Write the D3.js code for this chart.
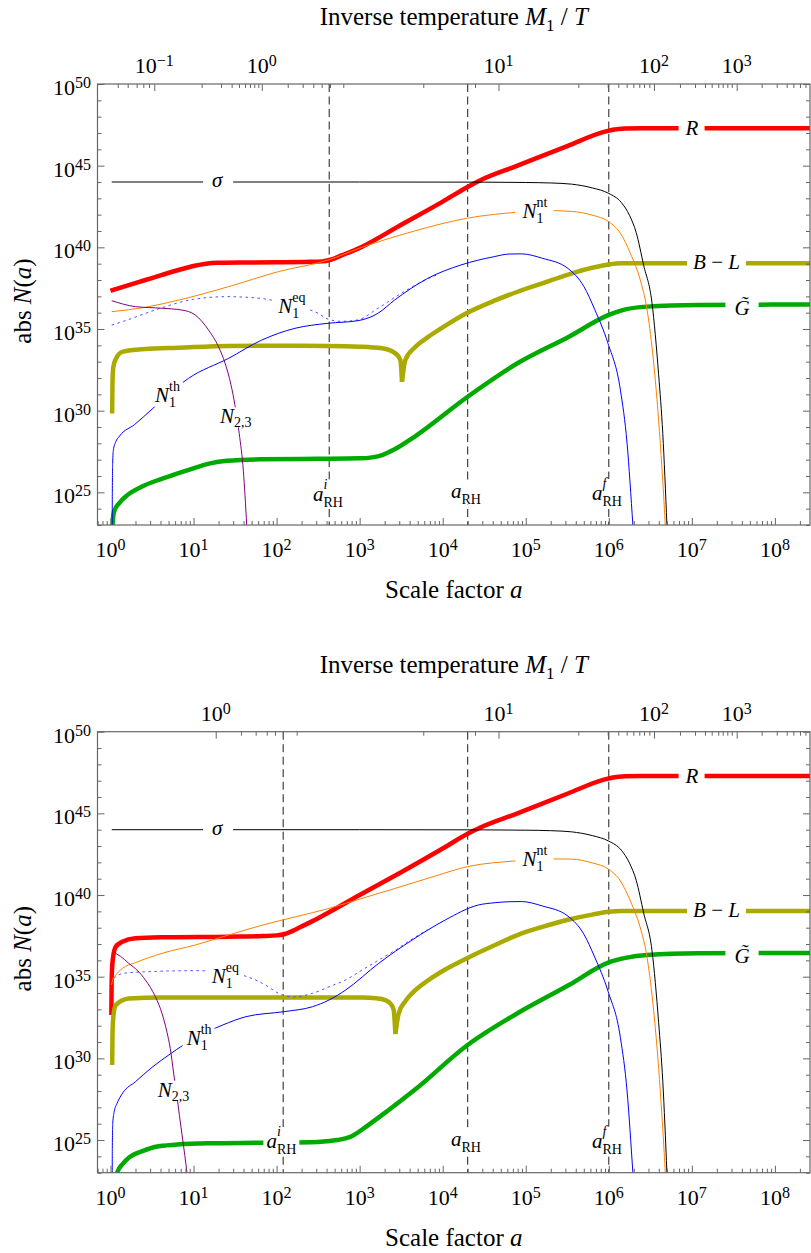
<!DOCTYPE html>
<html>
<head>
<meta charset="utf-8">
<script src="https://cdn.jsdelivr.net/npm/d3@7/dist/d3.min.js"></script>
<style>
  html,body{margin:0;padding:0;background:#fff;}
  svg{display:block;}
  text{font-family:"Liberation Serif","Times New Roman",Times,serif;fill:#000;}
</style>
</head>
<body>
<svg id="chart" width="811" height="1253"></svg>
<script>
// ================= DATA =================
// every point: [log10(scale factor a), log10(abs N(a))]

// ---- upper panel ----
const P1_R = [[0.0,37.34],[0.2,37.66],[0.42,38.0],[0.62,38.31],[0.82,38.61],[1.0,38.86],[1.15,39.0],[1.3,39.05],[1.6,39.07],[2.0,39.08],[2.4,39.11],[2.55,39.14],[2.65,39.24],[2.79,39.52],[3.03,40.04],[3.5,41.38],[4.0,42.8],[4.3,43.7],[4.46,44.12],[4.9,45.0],[5.5,46.2],[5.95,47.08],[6.05,47.2],[6.2,47.27],[6.4,47.29],[8.45,47.29]];
const SIGMA = [[0.015,44.0],[3.0,44.0],[4.5,43.99],[5.0,43.97],[5.3,43.94],[5.55,43.87],[5.8,43.64],[6.0,43.3],[6.15,42.75],[6.25,41.95],[6.33,40.9],[6.42,38.9],[6.52,36.6],[6.6,32.2],[6.65,28.6],[6.7,23.0],[6.72,20.5]];
const P1_N1NT = [[0.015,36.06],[0.42,36.33],[0.82,36.77],[1.42,37.59],[2.02,38.51],[2.62,39.22],[3.0,39.95],[3.66,41.0],[4.29,41.78],[4.9,42.15],[5.25,42.25],[5.55,42.2],[5.8,41.97],[6.0,41.57],[6.14,40.86],[6.26,39.63],[6.39,37.8],[6.45,36.5],[6.52,33.9],[6.6,29.4],[6.68,23.0],[6.7,21.0]];
const P1_N1TH = [[0.02,21.5],[0.022,25.0],[0.026,26.8],[0.035,27.6],[0.06,28.05],[0.11,28.45],[0.29,29.15],[0.51,30.14],[0.72,31.1],[0.94,31.98],[1.42,33.2],[1.82,34.32],[2.22,35.04],[2.62,35.35],[2.98,35.51],[3.22,35.96],[3.42,36.77],[3.82,38.1],[4.22,38.92],[4.62,39.43],[4.8,39.59],[4.95,39.6],[5.2,39.33],[5.51,38.7],[5.7,37.6],[5.83,36.2],[5.99,34.12],[6.14,31.26],[6.22,28.0],[6.29,23.0],[6.31,21.5]];
const P1_N1EQ = [[0.015,35.24],[0.2,35.55],[0.6,36.27],[1.0,36.82],[1.4,36.98],[1.8,36.88],[2.15,36.5],[2.5,35.96],[2.62,35.6],[2.78,35.47],[2.98,35.56],[3.22,36.27],[3.5,37.18],[3.82,38.08],[3.95,38.35]];
const P1_N23 = [[0.015,36.73],[0.3,36.37],[0.62,36.27],[0.86,36.16],[1.02,35.86],[1.18,34.94],[1.3,33.92],[1.38,32.9],[1.45,31.6],[1.5,30.3],[1.55,28.6],[1.6,26.3],[1.64,23.0],[1.66,21.0]];
const P1_BL_LEFT = [[0.02,29.83],[0.024,31.8],[0.035,32.7],[0.063,33.15],[0.143,33.6],[0.42,33.77],[0.82,33.85],[1.42,33.96],[2.0,33.97],[2.62,33.96],[3.0,33.92],[3.27,33.82],[3.43,33.51],[3.49,33.1],[3.51,31.77]];
const P1_BL_RIGHT = [[3.51,31.77],[3.55,33.1],[3.67,33.9],[3.83,34.53],[4.0,35.1],[4.28,35.95],[4.63,36.75],[4.9,37.28],[5.2,37.8],[5.52,38.35],[5.8,38.75],[6.0,38.95],[6.15,39.02],[8.45,39.02]];
const P1_G = [[0.02,22.0],[0.025,23.0],[0.042,23.81],[0.102,24.32],[0.203,24.83],[0.4,25.4],[0.6,25.8],[0.8,26.15],[1.0,26.47],[1.2,26.77],[1.4,26.93],[1.8,27.02],[2.5,27.05],[3.0,27.08],[3.15,27.14],[3.28,27.3],[3.41,27.6],[3.66,28.4],[4.3,30.85],[4.9,32.9],[5.52,34.53],[6.0,35.86],[6.2,36.2],[6.46,36.37],[7.08,36.47],[8.45,36.5]];

// ---- lower panel ----
const P2_R = [[0.01,32.65],[0.013,34.3],[0.018,35.4],[0.03,36.15],[0.063,36.83],[0.143,37.14],[0.3,37.35],[0.62,37.41],[1.42,37.45],[1.83,37.49],[2.0,37.53],[2.09,37.6],[2.2,37.82],[2.3,38.07],[2.5,38.58],[3.0,40.0],[3.5,41.4],[4.0,42.85],[4.3,43.75],[4.46,44.15],[4.9,45.0],[5.5,46.2],[5.95,47.08],[6.05,47.2],[6.2,47.27],[6.4,47.29],[8.45,47.29]];
const P2_N1NT = [[0.012,34.49],[0.03,34.85],[0.063,35.1],[0.143,35.51],[0.3,35.86],[0.62,36.43],[1.02,36.94],[1.42,37.55],[1.83,38.16],[2.23,38.67],[2.63,39.18],[3.03,39.8],[3.43,40.41],[3.9,41.15],[4.3,41.74],[4.9,42.1],[5.25,42.22],[5.55,42.2],[5.8,41.97],[6.0,41.57],[6.14,40.86],[6.26,39.63],[6.39,37.8],[6.45,36.5],[6.52,33.9],[6.6,29.4],[6.68,23.0],[6.7,21.0]];
const P2_N1TH = [[0.02,21.5],[0.022,24.5],[0.027,26.0],[0.045,26.75],[0.079,27.24],[0.15,27.9],[0.3,28.57],[0.5,29.45],[0.73,30.31],[1.0,31.2],[1.35,32.04],[1.63,32.55],[2.09,32.86],[2.43,33.16],[2.63,33.57],[2.83,34.18],[3.23,35.82],[3.63,37.24],[4.03,38.47],[4.43,39.39],[4.63,39.53],[4.8,39.59],[4.95,39.6],[5.2,39.33],[5.51,38.7],[5.7,37.6],[5.83,36.2],[5.99,34.12],[6.14,31.26],[6.22,28.0],[6.29,23.0],[6.31,21.5]];
const P2_N1EQ = [[0.04,34.9],[0.143,35.2],[0.42,35.3],[1.02,35.37],[1.3,35.3],[1.67,34.96],[1.83,34.59],[2.07,33.88],[2.2,33.76],[2.43,33.98],[2.63,34.38],[2.83,34.8],[3.03,35.41],[3.23,36.02],[3.43,36.63],[3.63,37.3],[3.83,37.9]];
const P2_N23 = [[0.06,36.43],[0.12,36.25],[0.22,35.82],[0.33,35.35],[0.42,34.8],[0.54,33.78],[0.62,32.76],[0.68,31.6],[0.72,30.6],[0.76,29.1],[0.8,27.7],[0.83,26.5],[0.87,25.0],[0.92,23.0],[0.94,22.0]];
const P2_BL_LEFT = [[0.02,29.6],[0.024,31.5],[0.035,32.6],[0.063,33.26],[0.22,33.67],[0.62,33.73],[1.8,33.73],[2.5,33.73],[3.03,33.72],[3.2,33.68],[3.31,33.57],[3.38,33.3],[3.41,32.96],[3.43,31.49]];
const P2_BL_RIGHT = [[3.43,31.49],[3.47,32.76],[3.55,33.5],[3.63,33.98],[3.83,34.8],[4.0,35.35],[4.3,36.15],[4.63,36.94],[4.9,37.55],[5.2,38.05],[5.52,38.5],[5.8,38.8],[6.0,38.97],[6.15,39.02],[8.45,39.02]];
const P2_G = [[0.06,22.0],[0.08,23.0],[0.15,23.55],[0.235,23.97],[0.4,24.35],[0.546,24.59],[0.8,24.72],[1.17,24.8],[1.79,24.83],[2.41,24.86],[2.6,24.92],[2.73,25.0],[2.91,25.25],[3.1,25.9],[3.35,26.84],[3.66,28.06],[4.3,30.82],[4.9,32.76],[5.52,34.49],[6.0,35.88],[6.2,36.15],[6.46,36.33],[7.08,36.43],[8.45,36.45]];

// reheating markers (scale factor a): a_RH^i, a_RH, a_RH^f
const P1_MARKERS = [430, 2e4, 1e6];
const P2_MARKERS = [120, 2e4, 1e6];

// top axis (M1/T) ticks: [M1/T, log10 a where it occurs]
const TOP1_TICKS = [[0.05,0.087],[0.06,0.207],[0.07,0.315],[0.08,0.395],[0.09,0.464],[0.1,0.527],[0.2,1.098],[0.3,1.331],[0.4,1.459],[0.5,1.547],[0.6,1.620],[0.7,1.680],[0.8,1.731],[0.9,1.780],[1,1.821],[2,2.134],[3,2.314],[4,2.442],[5,2.543],[6,2.643],[7,2.803],[8,3.766],[9,4.389],[10,4.672]];
const TOP2_TICKS = [[1,1.267],[2,1.571],[3,1.748],[4,1.881],[5,1.981],[6,2.077],[7,2.242],[8,3.766],[9,4.389],[10,4.672]];
const TOP_TAIL = [[20,5.633],[30,5.987],[40,6.114],[50,6.215],[60,6.295],[70,6.367],[80,6.424],[90,6.488],[100,6.544],[200,6.857],[300,7.038],[400,7.158],[500,7.239],[600,7.318],[700,7.371],[800,7.427],[900,7.480],[1000,7.540],[2000,7.841],[3000,8.022],[4000,8.142],[5000,8.222],[6000,8.302],[7000,8.368]];

// bottom axis labelled decades, left axis labelled decades
const X_LABEL_EXPS = [0,1,2,3,4,5,6,7,8];
const Y_LABEL_EXPS = [25,30,35,40,45,50];
const Y_RANGE_EXP = [23, 50];

// ================= DRAWING =================
const svg = d3.select("#chart");
const X_LEFT = 97.5, X_RIGHT = 810;
const P = v => Math.pow(10, v);
const x = d3.scaleLog().domain([P(-0.1565), P(8.4226)]).range([X_LEFT, X_RIGHT]);
const FRAME = "#666";
const defs = svg.append("defs");

function bgLabel(g, padX, build) {
  const t = g.append("text");
  build(t);
  const bb = t.node().getBBox();
  g.insert("rect", () => t.node())
    .attr("x", bb.x - padX).attr("y", bb.y + 3)
    .attr("width", bb.width + 2 * padX).attr("height", Math.max(0, bb.height - 6))
    .attr("fill", "#fff");
  return t;
}
function subSup(t, xL, yB, main, sub, sup, o) {
  o = o || {};
  const subDy = o.subDy != null ? o.subDy : 5;
  const supDy = o.supDy != null ? o.supDy : -11;
  t.attr("x", xL).attr("y", yB).attr("font-size", 21);
  t.append("tspan").attr("font-style", "italic").text(main);
  const s = t.append("tspan").attr("font-size", 14).attr("dy", subDy).text(sub);
  if (sup) {
    const w = s.node().getComputedTextLength();
    t.append("tspan").attr("font-size", 14).attr("dx", -w).attr("dy", supDy - subDy)
      .attr("font-style", o.supItalic ? "italic" : null).text(sup);
  }
}
function powText(t, e, supSize, supDy) {
  t.append("tspan").text("10");
  t.append("tspan").attr("font-size", supSize).attr("dy", -supDy)
    .text(e < 0 ? "\u2212" + (-e) : String(e));
}

function drawPanel(cfg) {
  const top = cfg.top, bottom = cfg.bottom, off = cfg.off;
  const y = d3.scaleLog().domain([P(Y_RANGE_EXP[0]), P(Y_RANGE_EXP[1])]).range([bottom, top]);
  const g = svg.append("g");
  const clipId = "clip" + cfg.id;
  defs.append("clipPath").attr("id", clipId).append("rect")
    .attr("x", X_LEFT).attr("y", top).attr("width", X_RIGHT - X_LEFT).attr("height", bottom - top);
  const plot = g.append("g").attr("clip-path", "url(#" + clipId + ")");

  // dashed reheating markers
  plot.selectAll("line.mk").data(cfg.markers).join("line").attr("class", "mk")
    .attr("x1", d => x(d)).attr("x2", d => x(d)).attr("y1", top).attr("y2", bottom)
    .attr("stroke", "#000").attr("stroke-width", 0.9).attr("stroke-dasharray", "8,4.5");

  const line = d3.line().x(d => x(P(d[0]))).y(d => y(P(d[1]))).curve(d3.curveMonotoneX);
  cfg.series.forEach(s => {
    plot.append("path").attr("d", line(s.data)).attr("fill", "none")
      .attr("stroke", s.color).attr("stroke-width", s.width)
      .attr("stroke-dasharray", s.dash || null).attr("stroke-linejoin", "round");
  });

  // axes (ticks inward)
  const styleAxis = sel => {
    sel.select(".domain").remove();
    sel.selectAll(".tick line").attr("stroke", FRAME).attr("stroke-width", 1);
    sel.selectAll(".tick text").remove();
  };
  const yExps = d3.range(Y_RANGE_EXP[0], Y_RANGE_EXP[1] + 1);
  const yMinor = yExps.filter(e => e % 5 !== 0).map(P);
  const yMajor = yExps.filter(e => e % 5 === 0).map(P);
  [[d3.axisLeft, X_LEFT], [d3.axisRight, X_RIGHT]].forEach(([ax, px]) => {
    g.append("g").attr("transform", "translate(" + px + ",0)").call(ax(y).tickValues(yMinor).tickSize(-4)).call(styleAxis);
    g.append("g").attr("transform", "translate(" + px + ",0)").call(ax(y).tickValues(yMajor).tickSize(-7)).call(styleAxis);
  });
  const xMinor = [], xMajor = [];
  for (let e = -1; e <= 8; e++) {
    for (let k = 1; k <= 9; k++) {
      const v = k * P(e);
      if (v < x.domain()[0] || v > x.domain()[1]) continue;
      (k === 1 ? xMajor : xMinor).push(v);
    }
  }
  g.append("g").attr("transform", "translate(0," + bottom + ")").call(d3.axisBottom(x).tickValues(xMinor).tickSize(-4)).call(styleAxis);
  g.append("g").attr("transform", "translate(0," + bottom + ")").call(d3.axisBottom(x).tickValues(xMajor).tickSize(-7)).call(styleAxis);
  const isPow = z => Math.abs(Math.log10(z) - Math.round(Math.log10(z))) < 1e-9;
  const topT = cfg.topTicks;
  g.append("g").attr("transform", "translate(0," + top + ")")
    .call(d3.axisTop(x).tickValues(topT.filter(d => !isPow(d[0])).map(d => P(d[1]))).tickSize(-4)).call(styleAxis);
  g.append("g").attr("transform", "translate(0," + top + ")")
    .call(d3.axisTop(x).tickValues(topT.filter(d => isPow(d[0])).map(d => P(d[1]))).tickSize(-7)).call(styleAxis);

  // frame
  g.append("rect").attr("x", X_LEFT).attr("y", top).attr("width", X_RIGHT - X_LEFT).attr("height", bottom - top)
    .attr("fill", "none").attr("stroke", FRAME).attr("stroke-width", 1.2);

  // tick labels
  Y_LABEL_EXPS.forEach(e => {
    const t = g.append("text").attr("x", 91).attr("y", y(P(e)) + 11).attr("text-anchor", "end").attr("font-size", 22);
    powText(t, e, 16, 7);
  });
  X_LABEL_EXPS.forEach(e => {
    const t = g.append("text").attr("x", x(P(e))).attr("y", bottom + 32).attr("text-anchor", "middle").attr("font-size", 22);
    powText(t, e, 16, 7);
  });
  topT.filter(d => isPow(d[0])).forEach(d => {
    const t = g.append("text").attr("x", x(P(d[1]))).attr("y", top - 11).attr("text-anchor", "middle").attr("font-size", 22);
    powText(t, Math.round(Math.log10(d[0])), 16, 7);
  });

  // axis titles
  const tt = g.append("text").attr("x", (X_LEFT + X_RIGHT) / 2).attr("y", 25 + off).attr("text-anchor", "middle").attr("font-size", 25);
  tt.append("tspan").text("Inverse temperature ");
  tt.append("tspan").attr("font-style", "italic").text("M");
  tt.append("tspan").attr("font-size", 17).attr("dy", 6).text("1");
  tt.append("tspan").attr("dy", -6).text(" / ");
  tt.append("tspan").attr("font-style", "italic").text("T");
  const bt = g.append("text").attr("x", (X_LEFT + X_RIGHT) / 2).attr("y", 598 + off).attr("text-anchor", "middle").attr("font-size", 25);
  bt.append("tspan").text("Scale factor ");
  bt.append("tspan").attr("font-style", "italic").text("a");
  const yt = g.append("text").attr("transform", "translate(31," + (301 + off) + ") rotate(-90)").attr("text-anchor", "middle").attr("font-size", 25);
  yt.append("tspan").text("abs ");
  yt.append("tspan").attr("font-style", "italic").text("N");
  yt.append("tspan").text("(");
  yt.append("tspan").attr("font-style", "italic").text("a");
  yt.append("tspan").text(")");

  // curve & marker labels
  const L = cfg.labels;
  const lab = g.append("g");
  bgLabel(lab, 9, t => t.attr("x", L.sigma[0]).attr("y", L.sigma[1] + off).attr("text-anchor", "middle").attr("font-size", 21).attr("font-style", "italic").text("\u03c3"));
  bgLabel(lab, 6, t => t.attr("x", 692).attr("y", 135 + off).attr("text-anchor", "middle").attr("font-size", 21).attr("font-style", "italic").text("R"));
  bgLabel(lab, 6, t => {
    t.attr("x", 716.5).attr("y", 269.3 + off).attr("text-anchor", "middle").attr("font-size", 21);
    t.append("tspan").attr("font-style", "italic").text("B");
    t.append("tspan").text(" \u2212 ");
    t.append("tspan").attr("font-style", "italic").text("L");
  });
  bgLabel(lab, 9, t => t.attr("x", 742).attr("y", 315 + off).attr("text-anchor", "middle").attr("font-size", 21).attr("font-style", "italic").text("G\u0303"));
  bgLabel(lab, 6, t => subSup(t, 522.5, 218.3 + off, "N", "1", "nt"));
  bgLabel(lab, 3, t => subSup(t, L.eq[0], L.eq[1], "N", "1", "eq"));
  bgLabel(lab, 3, t => subSup(t, L.th[0], L.th[1], "N", "1", "th"));
  bgLabel(lab, 3, t => subSup(t, L.n23[0], L.n23[1], "N", "2,3", null, { subDy: 4 }));
  bgLabel(lab, 3, t => subSup(t, L.rhi[0], L.rhi[1], "a", "RH", "i", { subDy: 6, supDy: -12, supItalic: true }));
  bgLabel(lab, 3, t => subSup(t, 451, 498.3 + off, "a", "RH", null, { subDy: 6 }));
  bgLabel(lab, 3, t => subSup(t, 592, 500 + off, "a", "RH", "f", { subDy: 6, supDy: -12, supItalic: true }));
}

const thick = 4.5, thin = 1;
drawPanel({
  id: 1, top: 84, bottom: 525, off: 0, markers: P1_MARKERS,
  topTicks: TOP1_TICKS.concat(TOP_TAIL),
  series: [
    { data: P1_R, color: "#ff0000", width: thick },
    { data: P1_BL_LEFT, color: "#aaaa00", width: thick },
    { data: P1_BL_RIGHT, color: "#aaaa00", width: thick },
    { data: P1_G, color: "#00aa00", width: thick },
    { data: SIGMA, color: "#000000", width: thin },
    { data: P1_N1NT, color: "#ff8000", width: thin },
    { data: P1_N1EQ, color: "#5050ff", width: thin, dash: "2.5,3.5" },
    { data: P1_N1TH, color: "#0000ff", width: thin },
    { data: P1_N23, color: "#800080", width: thin }
  ],
  labels: { sigma: [217.3, 187], eq: [278.3, 313.3], th: [155, 401.7], n23: [220, 423.3], rhi: [313, 500.7] }
});
drawPanel({
  id: 2, top: 731.7, bottom: 1172.7, off: 647.7, markers: P2_MARKERS,
  topTicks: TOP2_TICKS.concat(TOP_TAIL),
  series: [
    { data: P2_R, color: "#ff0000", width: thick },
    { data: P2_BL_LEFT, color: "#aaaa00", width: thick },
    { data: P2_BL_RIGHT, color: "#aaaa00", width: thick },
    { data: P2_G, color: "#00aa00", width: thick },
    { data: SIGMA, color: "#000000", width: thin },
    { data: P2_N1NT, color: "#ff8000", width: thin },
    { data: P2_N1EQ, color: "#5050ff", width: thin, dash: "2.5,3.5" },
    { data: P2_N1TH, color: "#0000ff", width: thin },
    { data: P2_N23, color: "#800080", width: thin }
  ],
  labels: { sigma: [217.3, 187], eq: [211.7, 983.3], th: [186.7, 1045], n23: [157.8, 1096.7], rhi: [266.4, 1148.3] }
});
</script>
</body>
</html>
